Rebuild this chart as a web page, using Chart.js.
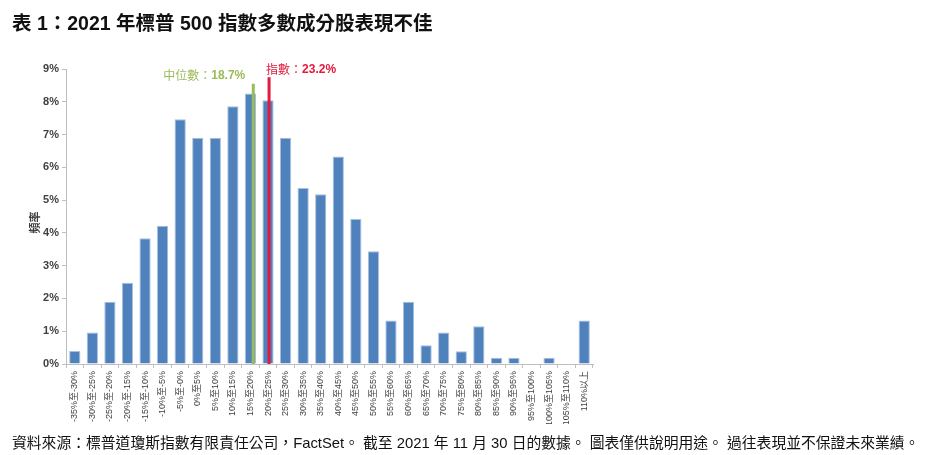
<!DOCTYPE html>
<html>
<head>
<meta charset="utf-8">
<script src="https://cdn.jsdelivr.net/npm/chart.js@4.4.0/dist/chart.umd.min.js"></script>
<style>
    html, body { margin: 0; padding: 0; background: #fff; }
    body { width: 939px; height: 455px; position: relative; overflow: hidden;
           font-family: "Liberation Sans", Arial, "Noto Sans CJK TC", sans-serif; }
    #title { position: absolute; left: 12px; top: 7px; font-size: 19.5px; font-weight: bold; color: #111; white-space: nowrap; }
    #footer { position: absolute; left: 12px; top: 431px; font-size: 14.8px; color: #111; white-space: nowrap; }
    #wrap { position: absolute; left: 0; top: 0; width: 939px; height: 455px; }
</style>
</head>
<body>
<div id="wrap"><canvas id="chart" width="939" height="455"></canvas></div>
<div id="title">表 1：2021 年標普 500 指數多數成分股表現不佳</div>
<div id="footer">資料來源：標普道瓊斯指數有限責任公司，FactSet。 截至 2021 年 11 月 30 日的數據。 圖表僅供說明用途。 過往表現並不保證未來業績。</div>

<script>
// --- data ---
const returnBins = [
    "-35%至-30%", "-30%至-25%", "-25%至-20%", "-20%至-15%", "-15%至-10%", "-10%至-5%",
    "-5%至-0%", "0%至5%", "5%至10%", "10%至15%", "15%至20%", "20%至25%",
    "25%至30%", "30%至35%", "35%至40%", "40%至45%", "45%至50%", "50%至55%",
    "55%至60%", "60%至65%", "65%至70%", "70%至75%", "75%至80%", "80%至85%",
    "85%至90%", "90%至95%", "95%至100%", "100%至105%", "105%至110%", "110%以上"
];
const frequency = [
    0.40, 0.96, 1.90, 2.48, 3.84, 4.22,
    7.47, 6.90, 6.90, 7.86, 8.25, 8.05,
    6.90, 5.37, 5.18, 6.33, 4.42, 3.44,
    1.33, 1.90, 0.57, 0.96, 0.39, 1.15,
    0.19, 0.19, 0, 0.19, 0, 1.33
];
const yTicks = [0, 1, 2, 3, 4, 5, 6, 7, 8, 9];
const medianReturn = 18.7;
const indexReturn = 23.2;

const binStart = -35, binSize = 5;
// return value -> position on category axis
const returnToIndex = v => (v - binStart) / binSize - 0.58;

const markerPlugin = {
    id: 'markers',
    afterDatasetsDraw(chart) {
        const { ctx, scales: { x, y } } = chart;
        const base = y.getPixelForValue(0);
        const drawMarker = (value, top, color, label, num, textX, textY, align) => {
            const px = x.getPixelForValue(returnToIndex(value));
            ctx.save();
            ctx.strokeStyle = color;
            ctx.lineWidth = 3;
            ctx.beginPath();
            ctx.moveTo(px, y.getPixelForValue(top));
            ctx.lineTo(px, base);
            ctx.stroke();

            ctx.fillStyle = color;
            ctx.textBaseline = 'middle';
            ctx.font = '12px "Noto Sans CJK TC", sans-serif';
            const w1 = ctx.measureText(label).width;
            ctx.font = 'bold 12px "Liberation Sans", Arial, sans-serif';
            const w2 = ctx.measureText(num).width;
            const startX = align === 'right' ? px + textX - w1 - w2 : px + textX;
            ctx.font = '12px "Noto Sans CJK TC", sans-serif';
            ctx.fillText(label, startX, y.getPixelForValue(textY));
            ctx.font = 'bold 12px "Liberation Sans", Arial, sans-serif';
            ctx.fillText(num, startX + w1, y.getPixelForValue(textY));
            ctx.restore();
        };
        drawMarker(medianReturn, 8.55, '#9bbb59', '中位數：', medianReturn + '%', -8, 8.8, 'right');
        drawMarker(indexReturn, 8.75, '#e31a3c', '指數：', indexReturn + '%', -3, 8.99, 'left');

        // y-axis title
        ctx.save();
        ctx.translate(35, (y.top + y.bottom) / 2 + 6);
        ctx.rotate(-Math.PI / 2);
        ctx.fillStyle = '#404040';
        ctx.font = 'bold 11px "Noto Sans CJK TC", sans-serif';
        ctx.textAlign = 'center';
        ctx.textBaseline = 'middle';
        ctx.fillText('頻率', 0, 0);
        ctx.restore();
    }
};

new Chart(document.getElementById('chart'), {
    type: 'bar',
    data: {
        labels: returnBins,
        datasets: [{
            data: frequency,
            backgroundColor: '#4f81bd',
            borderColor: '#a9bfdd',
            borderWidth: { top: 1, left: 1, right: 1, bottom: 0 },
            barPercentage: 0.64,
            categoryPercentage: 1.0
        }]
    },
    options: {
        responsive: false,
        animation: false,
        devicePixelRatio: 1,
        layout: { padding: { left: 20, right: 346, top: 69, bottom: 31 } },
        plugins: { legend: { display: false }, tooltip: { enabled: false } },
        scales: {
            x: {
                afterFit: s => { s.height = 60; },
                grid: { display: true, drawOnChartArea: false, offset: true, tickLength: 4, color: '#bfbfbf' },
                border: { color: '#bfbfbf' },
                ticks: {
                    autoSkip: false, maxRotation: 90, minRotation: 90, padding: 3,
                    color: '#404040',
                    font: { size: 9, family: '"Liberation Sans", Arial, "Noto Sans CJK TC", sans-serif' }
                }
            },
            y: {
                min: 0, max: 9,
                afterFit: s => { s.width = 46; },
                afterBuildTicks: s => { s.ticks = yTicks.map(v => ({ value: v })); },
                grid: { display: true, drawOnChartArea: false, tickLength: 4, color: '#bfbfbf' },
                border: { color: '#bfbfbf' },
                ticks: {
                    padding: 3,
                    color: '#404040',
                    font: { size: 11, weight: 'bold', family: '"Liberation Sans", Arial, sans-serif' },
                    callback: v => v + '%'
                }
            }
        }
    },
    plugins: [markerPlugin]
});
</script>
</body>
</html>
